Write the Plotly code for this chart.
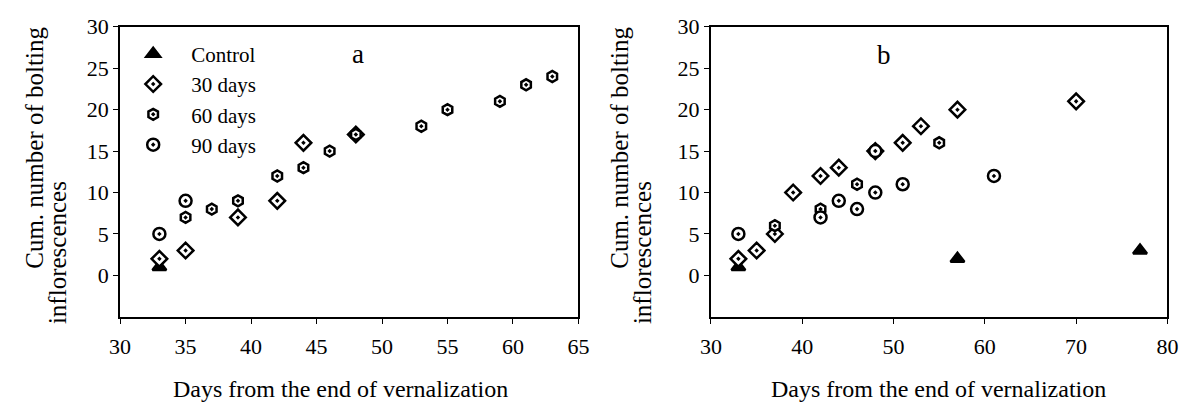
import plotly.graph_objects as go

# ---- data: panel a ----
a_ctrl_x = [33]
a_ctrl_y = [1]
a_d30_x = [33, 35, 39, 42, 44, 48]
a_d30_y = [2, 3, 7, 9, 16, 17]
a_d60_x = [35, 37, 39, 42, 44, 46, 48, 53, 55, 59, 61, 63]
a_d60_y = [7, 8, 9, 12, 13, 15, 17, 18, 20, 21, 23, 24]
a_d90_x = [33, 35]
a_d90_y = [5, 9]

# ---- data: panel b ----
b_ctrl_x = [33, 57, 77]
b_ctrl_y = [1, 2, 3]
b_d30_x = [33, 35, 37, 39, 42, 44, 48, 51, 53, 57, 70]
b_d30_y = [2, 3, 5, 10, 12, 13, 15, 16, 18, 20, 21]
b_d60_x = [37, 42, 46, 55]
b_d60_y = [6, 8, 11, 16]
b_d90_x = [33, 42, 44, 46, 48, 48, 51, 61]
b_d90_y = [5, 7, 9, 8, 10, 15, 11, 12]

series_names = ["Control", "30 days", "60 days", "90 days"]
y_ticks = [0, 5, 10, 15, 20, 25, 30]
xa_ticks = [30, 35, 40, 45, 50, 55, 60, 65]
xb_ticks = [30, 40, 50, 60, 70, 80]

FONT = "Liberation Serif"
# the page body has an 8px default margin; size the figure to fit the window
OFF = 8
W, H = 1200 - OFF, 409 - OFF

styles = {
    "Control": dict(symbol="triangle-up-dot", size=12, fill="black"),
    "30 days": dict(symbol="diamond-dot", size=12, fill="white"),
    "60 days": dict(symbol="hexagon-dot", size=11, fill="white"),
    "90 days": dict(symbol="circle-dot", size=12, fill="white"),
}

fig = go.Figure()

panel_a = [(a_ctrl_x, a_ctrl_y), (a_d30_x, a_d30_y), (a_d60_x, a_d60_y), (a_d90_x, a_d90_y)]
panel_b = [(b_ctrl_x, b_ctrl_y), (b_d30_x, b_d30_y), (b_d60_x, b_d60_y), (b_d90_x, b_d90_y)]

for name, (xs, ys) in zip(series_names, panel_a):
    st = styles[name]
    fig.add_trace(go.Scatter(
        x=xs, y=ys, mode="markers", name=name, xaxis="x", yaxis="y",
        legendgroup=name,
        marker=dict(symbol=st["symbol"], size=st["size"], color=st["fill"],
                    line=dict(color="black", width=2.5)),
        showlegend=True,
    ))
for name, (xs, ys) in zip(series_names, panel_b):
    st = styles[name]
    fig.add_trace(go.Scatter(
        x=xs, y=ys, mode="markers", name=name, xaxis="x2", yaxis="y2",
        legendgroup=name,
        marker=dict(symbol=st["symbol"], size=st["size"], color=st["fill"],
                    line=dict(color="black", width=2.5)),
        showlegend=False,
    ))

# positions below are given in screen pixels of the 1200x409 picture
def px_x(p):
    return (p - OFF) / W

def px_y(p):
    return 1 - (p - OFF) / H

axis_common = dict(
    showline=True, linecolor="black", linewidth=2, mirror=True,
    ticks="outside", ticklen=5, tickwidth=1, tickcolor="black",
    showgrid=False, zeroline=False, ticklabeloverflow="allow",
    tickfont=dict(family=FONT, size=22, color="black"),
)

fig.update_layout(
    width=W, height=H,
    margin=dict(l=0, r=0, t=0, b=0),
    paper_bgcolor="white", plot_bgcolor="white",
    font=dict(family=FONT, size=22, color="black"),
    xaxis=dict(domain=[px_x(111), px_x(578)], range=[30, 65], tickvals=xa_ticks,
               anchor="y", ticklabelstandoff=4, **axis_common),
    yaxis=dict(domain=[px_y(314), px_y(15)], range=[-5, 30], tickvals=y_ticks,
               anchor="x", **axis_common),
    xaxis2=dict(domain=[px_x(713), px_x(1178)], range=[30, 80], tickvals=xb_ticks,
                anchor="y2", ticklabelstandoff=4, **axis_common),
    yaxis2=dict(domain=[px_y(314), px_y(15)], range=[-5, 30], tickvals=y_ticks,
                anchor="x2", **axis_common),
    legend=dict(x=px_x(106), y=px_y(22), xanchor="left", yanchor="top",
                bgcolor="rgba(0,0,0,0)", font=dict(family=FONT, size=21),
                tracegroupgap=0, itemwidth=66),
    showlegend=True,
)

ann = []
def add_text(x, y, text, size=22, angle=0):
    ann.append(dict(x=px_x(x), y=px_y(y), xref="paper", yref="paper", text=text,
                    showarrow=False, textangle=angle, xanchor="center", yanchor="middle",
                    font=dict(family=FONT, size=size, color="black")))

# y titles
add_text(23, 140, "Cum. number of bolting", size=25, angle=-90)
add_text(48, 248, "inflorescences", size=25, angle=-90)
add_text(619, 140, "Cum. number of bolting", size=25, angle=-90)
add_text(644, 248, "inflorescences", size=25, angle=-90)
# x titles
add_text(336, 388, "Days from the end of vernalization", size=24)
add_text(945, 388, "Days from the end of vernalization", size=24)
# panel letters
add_text(353, 43, "a", size=27)
add_text(889, 44, "b", size=27)

fig.update_layout(annotations=ann)

fig.write_html("out.html")
